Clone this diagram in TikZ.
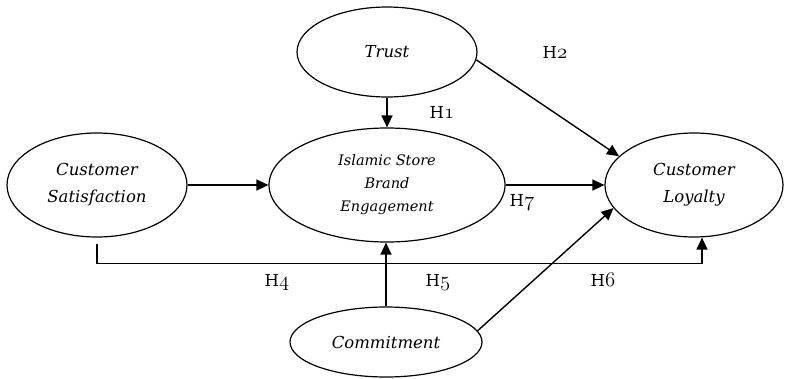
\documentclass[tikz,border=0pt]{standalone}
\usepackage{fontspec}
\setmainfont{DejaVu Serif}
\usetikzlibrary{shapes.geometric,arrows.meta}
% hypothesis labels with old-style figures
\newcommand{\hyp}[1]{H{\fontsize{20.74}{22}\selectfont$\mathnormal{#1}$}}
\begin{document}
\begin{tikzpicture}[x=1pt,y=-1pt,
  construct/.style={draw,ellipse,line width=1.2pt,inner sep=0pt,align=center,
    font=\fontsize{16.5}{27}\selectfont\itshape},
  arr/.style={line width=1.4pt,-{Triangle[length=12pt,width=11pt]}},
  hlab/.style={font=\fontsize{16.5}{18}\selectfont}]
\useasboundingbox (0,0) rectangle (785,378);

\node[construct,minimum width=180pt,minimum height=90pt] (trust) at (387,52) {Trust};
\node[construct,minimum width=180pt,minimum height=104pt] (cs) at (97,185) {Customer\\Satisfaction};
\node[construct,minimum width=236pt,minimum height=114pt,
  font=\fontsize{14.5}{23}\selectfont\itshape] (isbe) at (387,185) {Islamic Store\\Brand\\Engagement};
\node[construct,minimum width=178pt,minimum height=104pt] (cl) at (694,185) {Customer\\Loyalty};
\node[construct,minimum width=192pt,minimum height=70pt] (comm) at (386,342) {Commitment};

\draw[arr] (trust.south) -- (isbe.north);
\draw[arr] (cs.east) -- (isbe.west);
\draw[arr] (isbe.east) -- (cl.west);
\draw[arr] (trust.-5) -- (cl.159);
\draw[arr] (comm.7) -- (cl.196);
\draw[arr] (comm.north) -- (comm.north |- isbe.south);
\coordinate (csfoot) at ([yshift=-6pt]cs.south);
\coordinate (clfoot) at ([xshift=8pt]cl.south);
\draw[arr] (csfoot) -- ++(0,20) -| (clfoot);

\node[hlab] (h1) at (442,112) {\hyp{1}};
\node[hlab] (h2) at (555,52) {\hyp{2}};
\node[hlab] (h4) at (277,282) {\hyp{4}};
\node[hlab] (h5) at (438,282) {\hyp{5}};
\node[hlab] (h6) at (603,280) {\hyp{6}};
\node[hlab] (h7) at (522,202) {\hyp{7}};
\end{tikzpicture}
\end{document}
